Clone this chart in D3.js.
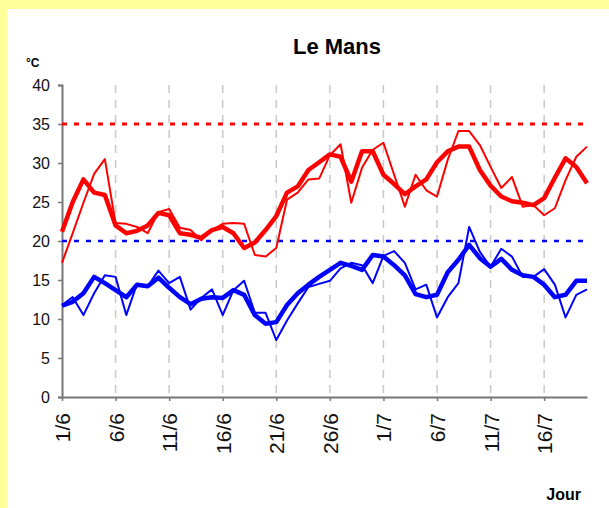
<!DOCTYPE html>
<html>
<head>
<meta charset="utf-8">
<script src="https://cdn.jsdelivr.net/npm/d3@7"></script>
<style>
  body { margin: 0; background: #ffff99; }
  svg { display: block; font-family: "Liberation Sans", Arial, sans-serif; }
</style>
</head>
<body>
<svg class="main-graphic"></svg>
<script>
// jours du 1/6 au 20/7
var days = ["1/6","2/6","3/6","4/6","5/6","6/6","7/6","8/6","9/6","10/6",
            "11/6","12/6","13/6","14/6","15/6","16/6","17/6","18/6","19/6","20/6",
            "21/6","22/6","23/6","24/6","25/6","26/6","27/6","28/6","29/6","30/6",
            "1/7","2/7","3/7","4/7","5/7","6/7","7/7","8/7","9/7","10/7",
            "11/7","12/7","13/7","14/7","15/7","16/7","17/7","18/7","19/7","20/7"];
var tickLabels = ["1/6","6/6","11/6","16/6","21/6","26/6","1/7","6/7","11/7","16/7"];
var yTicks = [0, 5, 10, 15, 20, 25, 30, 35, 40];

// max journaliere (trait fin rouge)
var tmax = [17.2, 21.0, 24.9, 28.6, 30.5, 22.3, 22.2, 21.8, 21.0, 23.7,
            24.1, 21.7, 21.4, 20.1, 21.4, 22.2, 22.3, 22.2, 18.2, 18.0,
            19.1, 25.3, 26.2, 27.9, 28.0, 31.0, 32.4, 24.9, 29.4, 31.7,
            32.6, 28.5, 24.4, 28.5, 26.5, 25.7, 30.4, 34.1, 34.1, 32.3,
            29.5, 26.8, 28.2, 24.4, 24.6, 23.3, 24.2, 27.8, 30.8, 32.1];
// max lissee (trait epais rouge)
var tmaxSmooth = [21.2, 25.0, 27.9, 26.2, 25.9, 22.0, 21.0, 21.3, 22.0, 23.6,
                  23.3, 21.0, 20.8, 20.4, 21.4, 21.8, 21.0, 19.1, 19.8, 21.4,
                  23.2, 26.2, 27.0, 29.1, 30.1, 31.1, 30.8, 27.6, 31.5, 31.5,
                  28.5, 27.3, 26.0, 27.0, 27.9, 30.1, 31.5, 32.1, 32.1, 29.1,
                  27.1, 25.7, 25.1, 24.9, 24.6, 25.5, 28.1, 30.6, 29.5, 27.4];
// min journaliere (trait fin bleu)
var tmin = [11.8, 12.8, 10.5, 13.3, 15.6, 15.4, 10.5, 14.5, 14.2, 16.2,
            14.6, 15.4, 11.2, 12.7, 13.8, 10.5, 13.7, 14.9, 10.8, 10.8,
            7.3, 9.8, 12.0, 14.1, 14.5, 14.9, 16.5, 17.2, 16.9, 14.6,
            18.1, 18.7, 17.2, 13.8, 14.4, 10.2, 12.8, 14.6, 21.8, 18.6,
            16.7, 19.0, 18.0, 15.4, 15.4, 16.4, 14.4, 10.2, 13.1, 13.8];
// min lissee (trait epais bleu)
var tminSmooth = [11.7, 12.2, 13.3, 15.4, 14.6, 13.7, 12.8, 14.4, 14.2, 15.3,
                  14.0, 12.8, 11.9, 12.6, 12.8, 12.7, 13.7, 13.1, 10.5, 9.4,
                  9.6, 11.8, 13.3, 14.4, 15.4, 16.3, 17.2, 16.8, 16.3, 18.2,
                  18.0, 16.9, 15.6, 13.2, 12.8, 13.1, 16.0, 17.6, 19.5, 17.8,
                  16.7, 17.7, 16.3, 15.6, 15.4, 14.4, 12.8, 13.1, 14.9, 14.9];

var seuilHaut = 35, seuilBas = 20;

var W = 609, H = 508;
var margin = {top: 85, right: 22, bottom: 111, left: 62},
    width = W - margin.left - margin.right,
    height = H - margin.top - margin.bottom;

var svg = d3.select(".main-graphic")
    .attr("width", W)
    .attr("height", H);

// fond blanc
svg.append("rect")
    .attr("x", 7).attr("y", 9)
    .attr("width", W - 7).attr("height", H - 9)
    .attr("fill", "#fff");

svg.append("text")
    .attr("x", 337).attr("y", 54)
    .attr("text-anchor", "middle")
    .attr("font-size", "22px").attr("font-weight", "bold")
    .text("Le Mans");

svg.append("text")
    .attr("x", 26).attr("y", 67)
    .attr("font-size", "12px").attr("font-weight", "bold")
    .text("°C");

svg.append("text")
    .attr("x", 581).attr("y", 500)
    .attr("text-anchor", "end")
    .attr("font-size", "16px").attr("font-weight", "bold")
    .text("Jour");

var g = svg.append("g")
    .attr("transform", "translate(" + margin.left + "," + margin.top + ")");

var x = d3.scalePoint().domain(days).range([0, width]);
var y = d3.scaleLinear().domain([0, 40]).range([height, 0]);

// grille verticale
g.selectAll(".vgrid")
    .data(tickLabels.slice(1))
  .enter().append("line")
    .attr("class", "vgrid")
    .attr("x1", function(d) { return x(d); })
    .attr("x2", function(d) { return x(d); })
    .attr("y1", 0).attr("y2", height)
    .attr("stroke", "#c8c8c8")
    .attr("stroke-width", 1.5)
    .attr("stroke-dasharray", "8,7");

// axes
var yAxis = g.append("g")
    .call(d3.axisLeft(y).tickValues(yTicks).tickSize(4).tickPadding(8));
var xAxis = g.append("g")
    .attr("transform", "translate(0," + height + ")")
    .call(d3.axisBottom(x).tickValues(tickLabels).tickSize(4).tickSizeOuter(0));

yAxis.select(".domain").attr("stroke", "#777").attr("stroke-width", 2);
xAxis.select(".domain").attr("stroke", "#777").attr("stroke-width", 2);
g.selectAll(".tick line").attr("stroke", "#777").attr("stroke-width", 1.5);
yAxis.selectAll("text").attr("font-size", "16px").attr("fill", "#111")
    .attr("font-family", "'Liberation Sans', Arial, sans-serif");
xAxis.selectAll("text")
    .attr("font-size", "21px").attr("fill", "#111")
    .attr("font-family", "'Liberation Sans', Arial, sans-serif")
    .attr("text-anchor", "end")
    .attr("transform", "rotate(-90)")
    .attr("x", -16).attr("y", 0).attr("dy", "0.36em");

// seuils
g.append("line")
    .attr("x1", 0).attr("x2", x(days[days.length - 1]) - 4)
    .attr("y1", y(seuilHaut)).attr("y2", y(seuilHaut))
    .attr("stroke", "#ff0000").attr("stroke-width", 3)
    .attr("stroke-dasharray", "5,7");
g.append("line")
    .attr("x1", 0).attr("x2", x(days[days.length - 1]) - 4)
    .attr("y1", y(seuilBas)).attr("y2", y(seuilBas))
    .attr("stroke", "#0000ff").attr("stroke-width", 2.5)
    .attr("stroke-dasharray", "5,7");

var line = d3.line()
    .x(function(d, i) { return x(days[i]); })
    .y(function(d) { return y(d); });

var series = [
  {values: tmin, color: "#0000ff", w: 2},
  {values: tminSmooth, color: "#0000ff", w: 4.5},
  {values: tmax, color: "#ff0000", w: 2},
  {values: tmaxSmooth, color: "#ff0000", w: 4.5}
];

g.selectAll(".serie")
    .data(series)
  .enter().append("path")
    .attr("class", "serie")
    .attr("d", function(d) { return line(d.values); })
    .attr("fill", "none")
    .attr("stroke", function(d) { return d.color; })
    .attr("stroke-width", function(d) { return d.w; })
    .attr("stroke-linejoin", "round");
</script>
</body>
</html>
